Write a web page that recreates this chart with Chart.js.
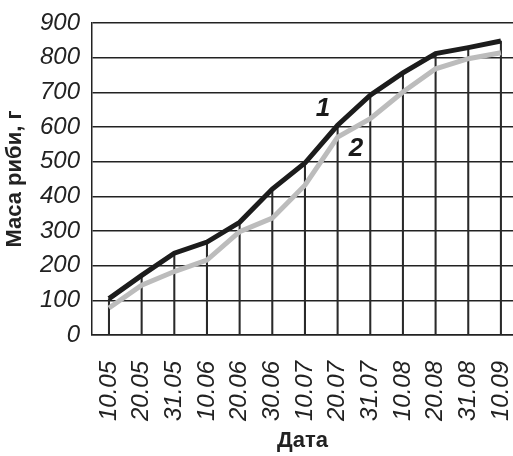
<!DOCTYPE html>
<html>
<head>
<meta charset="utf-8">
<script src="https://cdn.jsdelivr.net/npm/chart.js@4/dist/chart.umd.min.js"></script>
<style>
  body { margin: 0; background: #fff; }
  #wrap { width: 513px; height: 456px; }
</style>
</head>
<body>
<div id="wrap"><canvas id="chart" width="513" height="456"></canvas></div>
<script>
// Data
const dates = ['10.05', '20.05', '31.05', '10.06', '20.06', '30.06', '10.07',
               '20.07', '31.07', '10.08', '20.08', '31.08', '10.09'];
const mass1 = [105, 172, 236, 268, 325, 421, 496, 605, 692, 756, 812, 829, 848];
const mass2 = [78, 144, 183, 216, 298, 337, 432, 571, 624, 701, 768, 797, 814];
const yTicks = [0, 100, 200, 300, 400, 500, 600, 700, 800, 900];
const curveLabels = ['1', '2'];
const curveLabelAt = [[6.55, 651], [7.56, 536]];

const toPoints = arr => arr.map((v, i) => ({ x: i, y: v }));

// Numbers "1" and "2" next to the curves
const curveLabelPlugin = {
    id: 'curveLabels',
    afterDatasetsDraw(chart) {
        const { ctx, scales } = chart;
        ctx.save();
        ctx.font = 'italic bold 26px "Liberation Sans", Arial, sans-serif';
        ctx.fillStyle = '#1a1a1a';
        ctx.textAlign = 'center';
        ctx.textBaseline = 'middle';
        curveLabels.forEach((txt, i) => {
            const [xv, yv] = curveLabelAt[i];
            ctx.fillText(txt, scales.x.getPixelForValue(xv), scales.y.getPixelForValue(yv));
        });
        ctx.restore();
    }
};

Chart.defaults.font.family = '"Liberation Sans", Arial, sans-serif';
Chart.defaults.color = '#222';

new Chart(document.getElementById('chart'), {
    type: 'line',
    data: {
        datasets: [
            {
                label: '1',
                data: toPoints(mass1),
                borderColor: '#1c1c1c',
                borderWidth: 5,
                pointRadius: 0,
                tension: 0,
                order: 0
            },
            {
                label: '2',
                data: toPoints(mass2),
                borderColor: '#bcbcbc',
                borderWidth: 5,
                pointRadius: 0,
                tension: 0,
                order: 1
            },
            {
                type: 'bar',
                label: 'drop',
                data: toPoints(mass1),
                backgroundColor: '#2a2a2a',
                barThickness: 1.4,
                order: 2
            }
        ]
    },
    options: {
        responsive: false,
        animation: false,
        devicePixelRatio: 1,
        layout: { padding: { top: 23, right: 0, bottom: 0, left: 0 } },
        plugins: {
            legend: { display: false },
            tooltip: { enabled: false }
        },
        scales: {
            x: {
                type: 'linear',
                offset: false,
                min: -0.52,
                max: 12.37,
                afterBuildTicks: scale => {
                    scale.ticks = dates.map((_, i) => ({ value: i }));
                },
                afterFit: scale => {
                    scale.height = 121;
                    scale.paddingLeft = 0;
                    scale.paddingRight = 0;
                },
                grid: { display: false },
                border: { display: true, color: '#222', width: 1.5 },
                ticks: {
                    autoSkip: false,
                    minRotation: 90,
                    maxRotation: 90,
                    padding: 18,
                    font: { size: 24, style: 'italic' },
                    callback: value => dates[value]
                },
                title: {
                    display: true,
                    text: 'Дата',
                    font: { size: 22, weight: 'bold', family: '"Liberation Sans Narrow", "Liberation Sans", sans-serif' },
                    padding: { top: 0, bottom: 2 }
                }
            },
            y: {
                min: 0,
                max: 900,
                afterBuildTicks: scale => {
                    scale.ticks = yTicks.map(v => ({ value: v }));
                },
                afterFit: scale => {
                    scale.width = 92;
                    scale.paddingTop = 0;
                    scale.paddingBottom = 0;
                },
                grid: { color: '#222', lineWidth: 1.5, drawTicks: false },
                border: { display: true, color: '#222', width: 1.5 },
                ticks: {
                    padding: 12,
                    font: { size: 24, style: 'italic' }
                },
                title: {
                    display: true,
                    text: 'Маса риби, г',
                    font: { size: 22, weight: 'bold', family: '"Liberation Sans Narrow", "Liberation Sans", sans-serif' },
                    padding: { top: 2, bottom: 0 }
                }
            }
        }
    },
    plugins: [curveLabelPlugin]
});
</script>
</body>
</html>
